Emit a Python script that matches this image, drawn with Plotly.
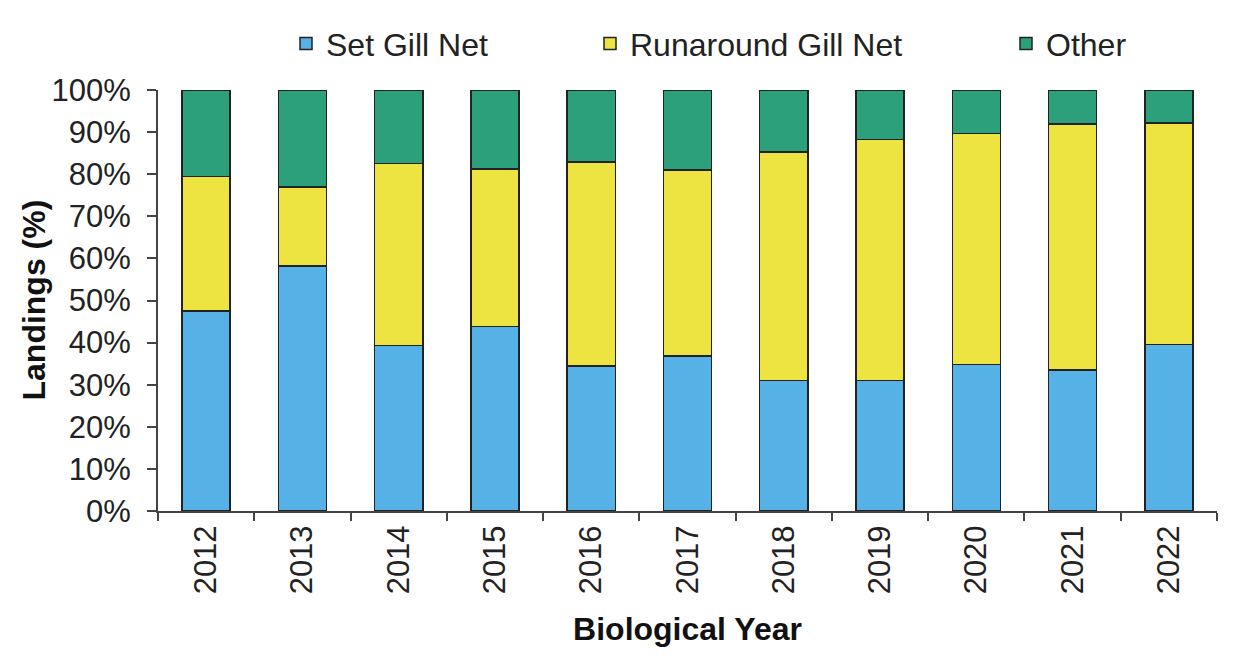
import plotly.graph_objects as go

years = ["2012", "2013", "2014", "2015", "2016", "2017", "2018", "2019", "2020", "2021", "2022"]
set_gill_net = [47.5, 58.2, 39.3, 43.8, 34.4, 36.8, 31.0, 31.0, 34.8, 33.5, 39.5]
runaround_gill_net = [31.9, 18.8, 43.3, 37.4, 48.5, 44.2, 54.3, 57.3, 54.9, 58.4, 52.7]
other = [20.6, 23.0, 17.4, 18.8, 17.1, 19.0, 14.7, 11.7, 10.3, 8.1, 7.8]
y_ticks = [0, 10, 20, 30, 40, 50, 60, 70, 80, 90, 100]

FONT = "Liberation Sans, Arial, sans-serif"
ML, MR, MT, MB = 158, 21, 90, 145
W, H = 1238, 656
PW = W - ML - MR

def px_to_paper_x(px):
    return (px - ML) / PW

series = [
    ("Set Gill Net", set_gill_net, "#56B1E6", "legend"),
    ("Runaround Gill Net", runaround_gill_net, "#EEE441", "legend2"),
    ("Other", other, "#2BA07A", "legend3"),
]

fig = go.Figure()
for name, vals, col, lg in series:
    fig.add_trace(go.Bar(
        x=years, y=vals, name=name,
        marker=dict(color=col, line=dict(color="#222222", width=1.5)),
        legend=lg, showlegend=True,
    ))

leg_common = dict(
    orientation="h", yanchor="middle", y=1.11, xanchor="left",
    font=dict(family=FONT, size=32, color="#222222"),
    bgcolor="rgba(0,0,0,0)", borderwidth=0, visible=True,
)

fig.update_layout(
    width=W, height=H,
    margin=dict(l=ML, r=MR, t=MT, b=MB),
    barmode="stack",
    bargap=0.5,
    showlegend=True,
    plot_bgcolor="white",
    paper_bgcolor="white",
    font=dict(family=FONT, color="#222222"),
    legend=dict(leg_common, x=px_to_paper_x(286)),
    legend2=dict(leg_common, x=px_to_paper_x(590)),
    legend3=dict(leg_common, x=px_to_paper_x(1006)),
    xaxis=dict(
        tickangle=-90,
        tickson="boundaries",
        ticks="outside", ticklen=8, tickcolor="#444444", tickwidth=2,
        showline=True, linecolor="#444444", linewidth=2,
        tickfont=dict(family=FONT, size=31, color="#222222"),
        title=dict(text="<b>Biological Year</b>", font=dict(family=FONT, size=32, color="#111111"), standoff=24),
        showgrid=False, automargin=False,
    ),
    yaxis=dict(
        range=[0, 100],
        tickvals=y_ticks,
        ticktext=[f"{v}%" for v in y_ticks],
        ticks="outside", ticklen=9, tickcolor="#444444", tickwidth=2,
        ticklabelstandoff=10,
        showline=True, linecolor="#444444", linewidth=2,
        tickfont=dict(family=FONT, size=31, color="#222222"),
        showgrid=False, zeroline=False, automargin=False,
    ),
    annotations=[dict(
        text="<b>Landings (%)</b>", textangle=-90,
        xref="paper", yref="paper", x=px_to_paper_x(33), y=0.5,
        xanchor="center", yanchor="middle", showarrow=False,
        font=dict(family=FONT, size=32, color="#111111"),
    )],
)

fig.write_html("out.html", config={"displayModeBar": False},
               post_script="document.body.style.margin='0';")
